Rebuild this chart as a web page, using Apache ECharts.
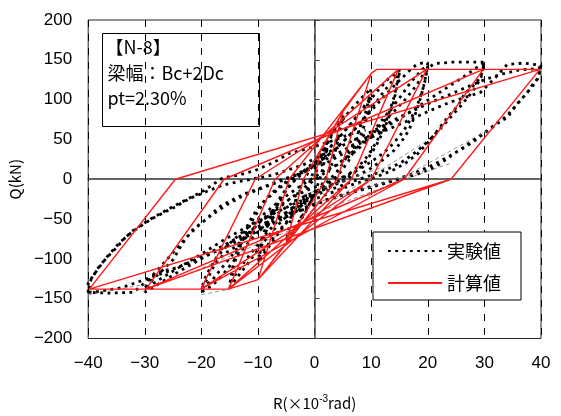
<!DOCTYPE html>
<html>
<head>
    <meta charset="utf-8" />
    <title>N-8</title>
    <script src="https://cdn.jsdelivr.net/npm/echarts@6/dist/echarts.min.js"></script>
    <style>
        html, body { margin: 0; padding: 0; background: #fff; }
    </style>
</head>
<body>
    <div id="main" style="width:561px;height:416px"></div>
    <script type="text/javascript">

        // x: R (x10^-3 rad), y: Q (kN)
        var xTicks = [-40, -30, -20, -10, 0, 10, 20, 30, 40];
        var yTicks = [-200, -150, -100, -50, 0, 50, 100, 150, 200];

        // 実験値 : small cycles
        var expSmall = [[0,0],[0.5,15],[1,27],[1.5,36],[2,44],[2.5,50],
            [2,32],[1.5,15],[1,2],[0.5,-8],[0,-16],[-0.5,-24],[-1,-32],[-1.5,-40],[-2,-46],[-2.5,-52],
            [-2,-34],[-1.5,-18],[-1,-6],[-0.5,4],[0,12],[1,28],[2,42],[3,56],[4,68],[5,80],
            [4.5,62],[4,45],[3.5,30],[3,18],[2,2],[1,-10],[0,-20],[-1,-32],[-2,-44],[-3,-56],[-4,-67],[-5,-78],
            [-4.5,-60],[-4,-44],[-3.5,-30],[-3,-18],[-2,-2],[-1,10],[0,20],[1,30]];
        var exp10 = [[2,43],[4,66],[6,84],[8,100],[10,114],
            [9.5,98],[9,84],[8,64],[7,46],[6,32],[5,20],[4,10],[3,2],[2,-5],[0,-17],[-2,-30],[-4,-46],[-6,-64],[-8,-84],[-10,-104],
            [-9.5,-88],[-9,-74],[-8,-54],[-7,-38],[-6,-25],[-5,-14],[-4,-5],[-3,3],[-2,10],[0,22],[2,35],[4,50],[6,66],[8,84],[10,104],
            [9.5,86],[9,72],[8,52],[7,36],[6,23],[5,13],[4,4],[2,-8],[0,-19],[-2,-31],[-4,-46],[-6,-62],[-8,-80],[-10,-98],
            [-9.5,-82],[-9,-68],[-8,-49],[-7,-34],[-6,-22],[-5,-12],[-3,2],[-1,14],[1,26]];
        var exp15 = [[3,42],[5,58],[7,75],[9,92],[11,110],[13,126],[15,137],
            [14.5,118],[14,102],[13,80],[12,62],[11,48],[10,36],[9,26],[8,18],[6,6],[4,-3],[2,-11],[0,-19],[-2,-28],[-4,-40],[-6,-54],[-8,-70],[-10,-88],[-12,-108],[-14,-126],[-15,-136],
            [-14.5,-118],[-14,-102],[-13,-82],[-12,-66],[-11,-52],[-10,-40],[-9,-30],[-8,-22],[-6,-10],[-4,0],[-2,9],[0,18],[2,28],[4,40],[6,54],[8,70],[10,88],[12,108],[14,126],[15,134],
            [14.5,115],[14,98],[13,76],[12,58],[11,44],[10,32],[9,22],[7,8],[5,-2],[3,-9],[0,-18],[-3,-30],[-6,-48],[-9,-72],[-12,-100],[-14,-120],[-15,-132],
            [-14.5,-112],[-14,-96],[-13,-76],[-12,-60],[-11,-47],[-10,-36],[-8,-20],[-6,-8],[-4,2],[-2,10],[0,18]];
        var exp20 = [[2,28],[4,40],[6,54],[8,70],[10,86],[12,102],[14,117],[16,131],[17,138],[18,144],[19,146],[20,146],
            [19.7,132],[19.3,118],[18.8,104],[18.2,90],[17.5,76],[16.8,64],[16,54],[15,44],[14,36],[12,24],[10,14],[8,6],[6,0],[4,-5],[2,-10],[0,-16],[-2,-22],[-4,-30],[-6,-40],[-8,-52],[-10,-66],[-12,-82],[-14,-100],[-16,-118],[-18,-133],[-20,-142],
            [-19.5,-132],[-18.7,-122],[-17.5,-105],[-15.8,-93],[-14,-85],[-12.3,-72],[-9.9,-55],[-7.5,-43],[-5.3,-30],[-3,-17],[-1,-6],[1,4],[3,14],[5,24],[7,36],[9,50],[11,66],[13,84],[15,102],[17,122],[19,138],[20,143],
            [19.6,126],[19,110],[18.2,94],[17.3,80],[16.2,66],[15,54],[13.5,42],[12,32],[10,22],[8,13],[6,6],[4,0],[2,-5],[0,-10],[-2,-16],[-4,-23],[-6,-32],[-8,-43],[-10,-56],[-12,-72],[-14,-90],[-16,-108],[-18,-126],[-20,-138],
            [-19.4,-125],[-18.5,-112],[-17.3,-98],[-15.8,-86],[-14,-74],[-12,-62],[-10,-50],[-8,-38],[-6,-26],[-4,-16],[-2,-6],[0,3],[2,12]];
        var exp30 = [[4,18],[6,28],[8,40],[10,54],[11.8,70],[14,85],[16,100],[18,118],[19.5,135],[21,145],[24,147],[27,147],[30,147],
            [29.5,132],[28.7,122],[27.5,114],[26.3,105],[25.4,93],[24,82],[22.9,72],[21.7,61],[20,46],[18.2,32],[16,20],[14,12],[12,6],[10,1],[7,-6],[4,-14],[0,-25],[-4,-38],[-8,-52],[-12,-67],[-16,-83],[-20,-100],[-24,-116],[-27,-129],[-30,-142],
            [-29.5,-134],[-28.6,-126],[-26.8,-114],[-25,-101],[-23.3,-80],[-21.6,-64],[-19.3,-51],[-16.9,-35],[-14.6,-26],[-12.3,-18],[-9.9,-12],[-7,-4],[-4,4],[-1,14],[2,25],[5,36],[8,48],[11.8,62],[15,76],[18,90],[21,104],[24,118],[27,132],[29,142],[30,145],
            [29.4,128],[28.5,116],[27.2,104],[25.8,92],[24.3,80],[22.8,68],[21.2,56],[19.5,44],[17.5,32],[15.5,22],[13,13],[10,5],[7,-2],[4,-10],[0,-20],[-4,-32],[-8,-46],[-12,-60],[-16,-76],[-20,-94],[-24,-111],[-27,-124],[-30,-138],
            [-29.4,-128],[-28.3,-118],[-26.5,-104],[-24.5,-88],[-22.5,-72],[-20.5,-58],[-18,-44],[-15.5,-32],[-13,-22],[-10,-13],[-7,-5],[-4,3],[-1,12]];
        var exp40 = [[2,20],[5,32],[8,45],[11.8,59],[16,72],[20,85],[24,97],[29.3,109],[32,128],[34,144],[37,146],[40,143],
            [39.5,127],[38.6,120],[37.5,108],[35.8,95],[34,77],[32.3,71],[30.5,61],[28,49],[26.3,40],[24.6,32],[22.3,20],[20.9,14],[18,6],[15,0],[12,-6],[8,-14],[4,-22],[0,-32],[-4,-44],[-8,-58],[-12,-72],[-16,-86],[-20,-99],[-24,-110],[-28,-118],[-30,-130],[-32,-142],[-36,-143],[-40,-142],
            [-40,-130],[-38,-110],[-36.8,-99],[-35,-86],[-33.3,-72],[-31,-60],[-28.6,-49],[-25,-36],[-22,-24],[-19.3,-16],[-16.3,-7.5],[-13.4,-3],[-10.5,1],[-7.5,5],[-4.6,12],[-2,18],[0,26],[3,36],[6,46],[9,56],[11.8,66],[15,78],[18,88],[21,98],[23.4,105],[27,116],[30,125],[33,132],[36,137],[39.2,139],[40,141],
            [39.4,126],[38.4,116],[37,104],[35.5,92],[34,80],[32,68],[30,58],[28,47],[26,38],[24,30],[22,22],[20,15],[17,6],[14,-1],[10,-9],[6,-17],[2,-26],[-2,-36],[-6,-48],[-10,-62],[-14,-76],[-18,-90],[-22,-104],[-26,-116],[-30,-126],[-34,-136],[-38,-141],[-40,-142],
            [-39.5,-126],[-38.3,-112],[-36.5,-96],[-34.5,-80],[-32,-64],[-29,-50],[-26,-38],[-22.5,-25],[-19.5,-14],[-16.3,1.5],[-13,6],[-10.5,11],[-7,22],[-4.6,32],[-0.5,40],[3,48],[6,56],[9,62]];

        // 実験値 : sparse slip segments (thin dashed)
        var expSlip = [[0,-30],[20,12],null,[3.5,-26],[20,49],null,[9.4,-22],[30.5,61],null,
            [0,-43],[14,-5],[24,20],null,[-2,-20],[12,15],null,[-23.3,-122],[0,-51],null,
            [-40,-145],[-30,-132],null,[-20,-145],[-15,-138]];

        // 計算値
        var calcData = [[0,0],[1,35],[5,85],[2,0],[-1,-35],[-5,-80],[-2,0],[5,85],[10,133],
            [4,0],[-5,-80],[-10,-126],[-4.5,0],[10,133],[4,0],[-10,-126],
            [-4.5,0],[10,133],[11,138],[14.8,138],[6.5,0],[-10,-126],[-15.2,-138],
            [-7,0],[14.8,138],[6.5,0],[-15.2,-138],
            [-7,0],[14.8,138],[19.8,138],[10,0],[-15.2,-138],[-20.1,-138],
            [-10.5,0],[19.8,138],[10,0],[-20.1,-138],
            [-10.5,0],[19.8,138],[29.8,138],[15.8,0],[-20.1,-138],[-29.8,-138],
            [-16,0],[29.8,138],[15.8,0],[-29.8,-138],
            [-16,0],[29.8,138],[39.8,138],[24.1,0],[-29.8,-138],[-39.8,-138],
            [-24.6,0],[39.8,138],[24.1,0],[-39.8,-138],[-24.6,0],[39.8,138]];

        var expData = [].concat(expSmall, exp10, exp15, exp20, exp30, exp40);

        var chartDom = document.getElementById('main');
        var myChart = echarts.init(chartDom);
        var option;

        var numFont = "'Liberation Sans', 'Noto Sans CJK JP', sans-serif";
        var jpFont = "'Noto Sans CJK JP', sans-serif";

        function minus(v) {
            return String(v).replace('-', '\u2212');
        }

        option = {
            backgroundColor: '#fff',
            animation: false,
            grid: {
                left: 85,
                right: 20,
                top: 20,
                bottom: 76,
                show: true,
                borderColor: '#222',
                borderWidth: 1
            },
            legend: {
                orient: 'vertical',
                left: 373,
                top: 232,
                padding: [10, 20, 8, 14],
                itemGap: 14,
                itemWidth: 54,
                itemHeight: 14,
                borderColor: '#000',
                borderWidth: 1,
                backgroundColor: '#fff',
                itemStyle: { opacity: 0 },
                textStyle: { fontFamily: jpFont, fontSize: 18, color: '#000' },
                data: ['実験値', '計算値']
            },
            xAxis: [{
                type: 'value',
                min: -40,
                max: 40,
                interval: 10,
                axisLine: { show: false },
                axisTick: { show: false },
                axisLabel: {
                    margin: 16,
                    fontSize: 17,
                    fontFamily: numFont,
                    color: '#000',
                    formatter: minus
                },
                splitLine: {
                    show: true,
                    lineStyle: { color: '#000', width: 1, type: [7, 7] }
                },
                name: 'R(×10{sup|-3}rad)',
                nameLocation: 'middle',
                nameGap: 56,
                nameTextStyle: {
                    fontSize: 15,
                    fontFamily: jpFont,
                    color: '#000',
                    rich: { sup: { fontSize: 10, verticalAlign: 'top', padding: [0, 0, 8, 0], fontFamily: numFont } }
                }
            }, {
                type: 'value',
                min: -40,
                max: 40,
                interval: 10,
                axisLine: { show: true, onZero: true, lineStyle: { color: '#333', width: 1.5 } },
                axisTick: { show: false },
                axisLabel: { show: false },
                splitLine: { show: false }
            }],
            yAxis: [{
                type: 'value',
                min: -200,
                max: 200,
                interval: 50,
                axisLine: { show: false },
                axisTick: { show: false },
                axisLabel: {
                    margin: 16,
                    fontSize: 17,
                    fontFamily: numFont,
                    color: '#000',
                    formatter: minus
                },
                splitLine: { show: false },
                name: 'Q(kN)',
                nameLocation: 'middle',
                nameGap: 56,
                nameTextStyle: { fontSize: 15, fontFamily: jpFont, color: '#000' }
            }, {
                type: 'value',
                min: -200,
                max: 200,
                interval: 50,
                position: 'left',
                axisLine: { show: true, onZero: true, lineStyle: { color: '#444', width: 1.5 } },
                axisTick: { show: true, inside: true, length: 5, lineStyle: { color: '#444' } },
                axisLabel: { show: false },
                splitLine: { show: false }
            }],
            graphic: [{
                type: 'group',
                left: 102,
                top: 33,
                children: [{
                    type: 'rect',
                    shape: { x: 0, y: 0, width: 157, height: 93 },
                    style: { fill: '#fff', stroke: '#000', lineWidth: 1 }
                }, {
                    type: 'text',
                    x: 3, y: 5,
                    style: { text: '【N-8】', font: "18px 'Noto Sans CJK JP'", fill: '#000' }
                }, {
                    type: 'text',
                    x: 5, y: 31,
                    style: { text: '梁幅：Bc+2Dc', font: "18px 'Noto Sans CJK JP'", fill: '#000' }
                }, {
                    type: 'text',
                    x: 5, y: 56,
                    style: { text: 'pt=2.30%', font: "18px 'Noto Sans CJK JP'", fill: '#000' }
                }]
            }],
            series: [{
                name: '実験値',
                type: 'line',
                data: expData,
                showSymbol: false,
                symbol: 'none',
                z: 2,
                lineStyle: { color: '#000', width: 2.8, type: [2.8, 4.5] },
                itemStyle: { color: '#000' }
            }, {
                name: 'slip',
                type: 'line',
                data: expSlip,
                showSymbol: false,
                symbol: 'none',
                connectNulls: false,
                z: 2,
                lineStyle: { color: '#777', width: 0.8, type: [4, 3] }
            }, {
                name: '計算値',
                type: 'line',
                data: calcData,
                showSymbol: false,
                symbol: 'none',
                z: 3,
                lineStyle: { color: '#ff1a1a', width: 1.4 },
                itemStyle: { color: '#ff1a1a' }
            }]
        };

        option && myChart.setOption(option);

    </script>
</body>
</html>
